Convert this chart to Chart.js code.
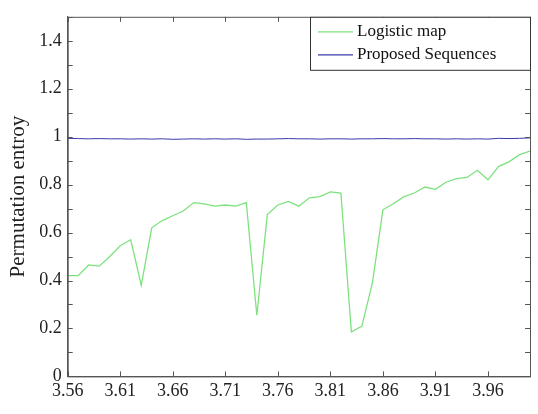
<!DOCTYPE html>
<html><head><meta charset="utf-8">
<script src="https://cdn.jsdelivr.net/npm/chart.js@4"></script>
<style>body{margin:0;background:#fff}#wrap{width:538px;height:414px}</style>
</head><body><div id="wrap"><canvas id="c"></canvas></div>
<script>
const rValues = [3.56,3.57,3.58,3.59,3.60,3.61,3.62,3.63,3.64,3.65,3.66,3.67,3.68,3.69,3.70,3.71,3.72,3.73,3.74,3.75,3.76,3.77,3.78,3.79,3.80,3.81,3.82,3.83,3.84,3.85,3.86,3.87,3.88,3.89,3.90,3.91,3.92,3.93,3.94,3.95,3.96,3.97,3.98,3.99,4.00];
const logistic = [0.42,0.42,0.465,0.46,0.50,0.545,0.57,0.38,0.62,0.65,0.67,0.69,0.725,0.72,0.71,0.715,0.71,0.725,0.255,0.675,0.715,0.73,0.71,0.745,0.75,0.77,0.765,0.185,0.21,0.39,0.695,0.72,0.75,0.765,0.79,0.78,0.81,0.825,0.83,0.86,0.82,0.875,0.895,0.925,0.94];
const proposed = [0.993,0.992,0.991,0.992,0.991,0.991,0.990,0.991,0.990,0.991,0.989,0.990,0.991,0.990,0.991,0.990,0.991,0.989,0.990,0.990,0.991,0.992,0.991,0.991,0.990,0.991,0.991,0.990,0.991,0.991,0.992,0.991,0.991,0.992,0.991,0.991,0.990,0.991,0.990,0.991,0.990,0.993,0.992,0.993,0.995];
const xTicks = [3.56,3.61,3.66,3.71,3.76,3.81,3.86,3.91,3.96];
const seriesNames = ['Logistic map','Proposed Sequences'];
const seriesColors = ['#7de27d','#3a3aa8'];

const font = {family:'"Liberation Serif", serif', size:18};

const legendBox = {
  id:'legendBox',
  afterDraw(chart){
    const ctx = chart.ctx, a = chart.chartArea;
    ctx.save();
    // axes frame
    ctx.strokeStyle='#555'; ctx.lineWidth=1;
    ctx.strokeRect(a.left+0.5,a.top+0.5,a.right-a.left,a.bottom-a.top);
    // inward tick marks
    ctx.beginPath();
    xTicks.forEach(v=>{ const x=Math.round(chart.scales.x.getPixelForValue(v))+0.5;
      ctx.moveTo(x,a.bottom); ctx.lineTo(x,a.bottom-5); ctx.moveTo(x,a.top); ctx.lineTo(x,a.top+5); });
    for(let k=0;k<=15;k++){ const y=Math.round(chart.scales.y.getPixelForValue(k/10))+0.5;
      ctx.moveTo(a.left,y); ctx.lineTo(a.left+5,y); ctx.moveTo(a.right,y); ctx.lineTo(a.right-5,y); }
    ctx.stroke();
    const w = 220, h = 53, x0 = a.right - w, y0 = a.top;
    ctx.fillStyle='#fff'; ctx.fillRect(x0,y0,w,h);
    ctx.strokeStyle='#333'; ctx.strokeRect(x0+0.5,y0+0.5,w,h);
    ctx.font='17px "Liberation Serif", serif'; ctx.textBaseline='middle';
    chart.data.datasets.forEach((d,i)=>{
      const y = y0 + 15 + i*23;
      ctx.strokeStyle=d.borderColor; ctx.lineWidth=1.2;
      ctx.beginPath(); ctx.moveTo(x0+8,y); ctx.lineTo(x0+43,y); ctx.stroke();
      ctx.fillStyle='#111'; ctx.fillText(d.label,x0+47,y);
    });
    ctx.restore();
  }
};

new Chart(document.getElementById('c'), {
  type:'line',
  data:{ datasets:[
    {label:seriesNames[0], data:rValues.map((r,i)=>({x:r,y:logistic[i]})), borderColor:seriesColors[0], borderWidth:1.3, pointRadius:0, tension:0},
    {label:seriesNames[1], data:rValues.map((r,i)=>({x:r,y:proposed[i]})), borderColor:seriesColors[1], borderWidth:1, pointRadius:0, tension:0}
  ]},
  options:{
    responsive:true, maintainAspectRatio:false, animation:false,
    layout:{padding:{top:12,right:8,left:4,bottom:8}},
    plugins:{legend:{display:false}, tooltip:{enabled:false}},
    scales:{
      x:{type:'linear', min:3.56, max:4.0,
        afterBuildTicks(s){ s.ticks = xTicks.map(v=>({value:v})); },
        ticks:{font, color:'#222', maxRotation:0, padding:4, callback:v=>v.toFixed(2)},
        grid:{display:false, drawTicks:false},
        border:{color:'#555'}
      },
      y:{min:0, max:1.5,
        ticks:{stepSize:0.1, font, color:'#222', padding:6, callback:v=>Math.round(v*10)/10},
        grid:{display:false, drawTicks:false},
        border:{color:'#555'},
        title:{display:true, text:'Permutation entroy', font:{family:'"Liberation Serif", serif', size:21}, color:'#222', padding:2}
      }
    }
  },
  plugins:[legendBox]
});
</script></body></html>
